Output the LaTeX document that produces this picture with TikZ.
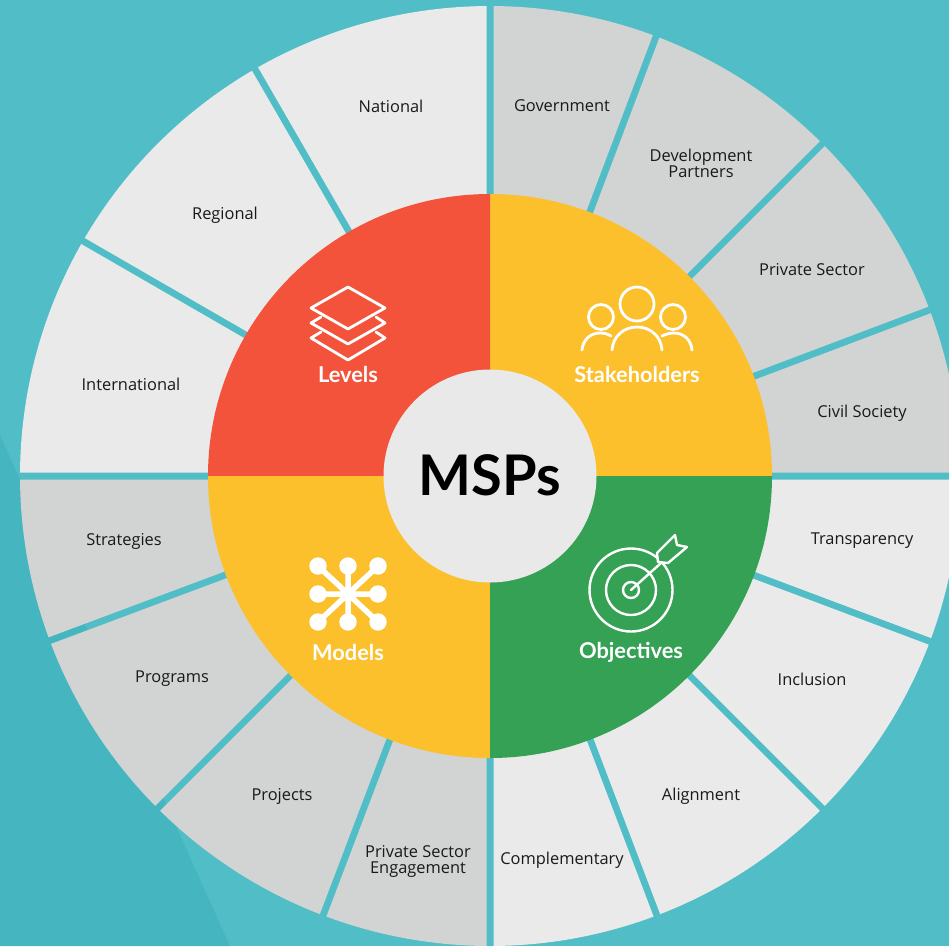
\documentclass[tikz,border=0pt]{standalone}
\usepackage{fontspec}
\setmainfont{Open Sans}
\newfontfamily\latofont{Lato}
\definecolor{bgteal}{HTML}{51BEC7}
\definecolor{bgdark}{HTML}{45B6BF}
\definecolor{ringlight}{HTML}{EAEAEA}
\definecolor{ringdark}{HTML}{D2D4D3}
\definecolor{pred}{HTML}{F3533A}
\definecolor{pyellow}{HTML}{FBC02C}
\definecolor{pgreen}{HTML}{35A155}
\definecolor{hubgrey}{HTML}{E9E9E9}
\tikzset{
  ringlabel/.style={font=\fontsize{16.4}{16}\selectfont, text=black!90, align=center, inner sep=0pt},
  pielabel/.style={font=\latofont\bfseries\fontsize{21.8}{22}\selectfont, text=white, inner sep=0pt},
  hublabel/.style={font=\latofont\bfseries\fontsize{56}{58}\selectfont, text=black, inner sep=0pt},
  iconline/.style={draw=white, line width=2.8pt, line join=round, line cap=round},
  iconthin/.style={draw=white, line width=2.4pt, line join=round, line cap=round},
  iconspoke/.style={draw=white, line width=5.5pt},
}
\begin{document}
\begin{tikzpicture}[x=1pt,y=-1pt]
\clip (0,0) rectangle (949,946);
\fill[bgteal] (0,0) rectangle (949,946);
\fill[bgdark] (0,435) -- (230,946) -- (0,946) -- cycle;

\begin{scope}[shift={(490,476)},yscale=-1]
  % outer ring: the gaps between the sectors show the background
  \foreach \a/\b/\c in {
    0/20.7/ringdark, 20.7/45/ringdark, 45/69.3/ringdark, 69.3/90/ringdark,
    90/120/ringlight, 120/150/ringlight, 150/180/ringlight,
    180/200.5/ringdark, 200.5/225/ringdark, 225/249.2/ringdark, 249.2/270/ringdark,
    270/290.8/ringlight, 290.8/315/ringlight, 315/339.4/ringlight, 339.4/360/ringlight}{
    \pgfmathsetmacro{\sa}{\a+0.427}
    \pgfmathsetmacro{\sb}{\b-0.427}
    \pgfmathsetmacro{\mi}{(\a+\b)/2}
    \pgfmathsetmacro{\ri}{3.5/sin((\b-\a)/2)}
    \fill[\c] (\mi:\ri) -- (\sa:470) arc[start angle=\sa,end angle=\sb,radius=470] -- cycle;
  }
  % inner pie
  \fill[pyellow] (0,0) -- (0:282) arc[start angle=0,end angle=90,radius=282] -- cycle;
  \fill[pred] (0,0) -- (90:282) arc[start angle=90,end angle=180,radius=282] -- cycle;
  \fill[pyellow] (0,0) -- (180:282) arc[start angle=180,end angle=270,radius=282] -- cycle;
  \fill[pgreen] (0,0) -- (270:282) arc[start angle=270,end angle=360,radius=282] -- cycle;
  \fill[hubgrey] (0,0) circle[radius=106.5];
\end{scope}

\node[hublabel] (hub) at (490,475) {MSPs};

% ring labels
\node[ringlabel] (national) at (391,106) {National};
\node[ringlabel] (regional) at (225,215) {Regional};
\node[ringlabel] (international) at (131,384) {International};
\node[ringlabel] (government) at (562,106) {Government};
\node[ringlabel] (devpartners) at (701,163) {Development\\Partners};
\node[ringlabel] (privatesector) at (812,270) {Private Sector};
\node[ringlabel] (civil) at (862,413) {Civil Society};
\node[ringlabel] (transparency) at (862,541) {Transparency};
\node[ringlabel] (inclusion) at (812,679) {Inclusion};
\node[ringlabel] (alignment) at (701,796) {Alignment};
\node[ringlabel] (complementary) at (562,860) {Complementary};
\node[ringlabel] (engagement) at (418,861) {Private Sector\\Engagement};
\node[ringlabel] (projects) at (282,796) {Projects};
\node[ringlabel] (programs) at (172,679) {Programs};
\node[ringlabel] (strategies) at (124,541) {Strategies};

% pie labels
\node[pielabel] (levels) at (348,374) {Levels};
\node[pielabel] (stakeholders) at (637,374) {Stakeholders};
\node[pielabel] (models) at (348,652) {Models};
\node[pielabel] (objectives) at (631,652) {Objectives};

% levels icon
\draw[iconline] (348,287) -- (385,308) -- (348,329) -- (311,308) -- cycle;
\draw[iconline] (321,317) -- (311,323) -- (348,344) -- (385,323) -- (376,317);
\draw[iconline] (321,332) -- (311,338) -- (348,360) -- (385,338) -- (376,332);

% stakeholders icon
\draw[iconline] (637,304) circle[radius=17];
\draw[iconline] (601,317) circle[radius=12.5];
\draw[iconline] (673,317) circle[radius=12.5];
\draw[iconline] (612,350) .. controls (613,336) and (624,327) .. (637,327) .. controls (650,327) and (661,336) .. (662,350);
\draw[iconline] (582,350) .. controls (583,340) and (590,333) .. (600,333) .. controls (604,333) and (608,334) .. (611,336);
\draw[iconline] (692,350) .. controls (691,340) and (684,333) .. (674,333) .. controls (670,333) and (666,334) .. (662,336);

% models icon
\draw[iconspoke] (318,566) -- (378,622) (378,566) -- (318,622) (348,566) -- (348,622) (318,594) -- (378,594);
\foreach \p in {(318,566),(348,566),(378,566),(318,594),(378,594),(318,622),(348,622),(378,622)}
  \fill[white] \p circle[radius=8.7];

% objectives icon
\draw[iconthin] (631,590) circle[radius=41.5];
\draw[iconthin] (631,590) circle[radius=25];
\draw[iconthin] (631,590) circle[radius=8];
\draw[iconthin] (631,590) -- (661,563);
\fill[pgreen] (657,553) -- (675,535) -- (677,545) -- (687,547) -- (668,563) -- (658,562) -- cycle;
\draw[iconthin] (657,553) -- (675,535) -- (677,545) -- (687,547) -- (668,563) -- (658,562) -- cycle;
\end{tikzpicture}
\end{document}
